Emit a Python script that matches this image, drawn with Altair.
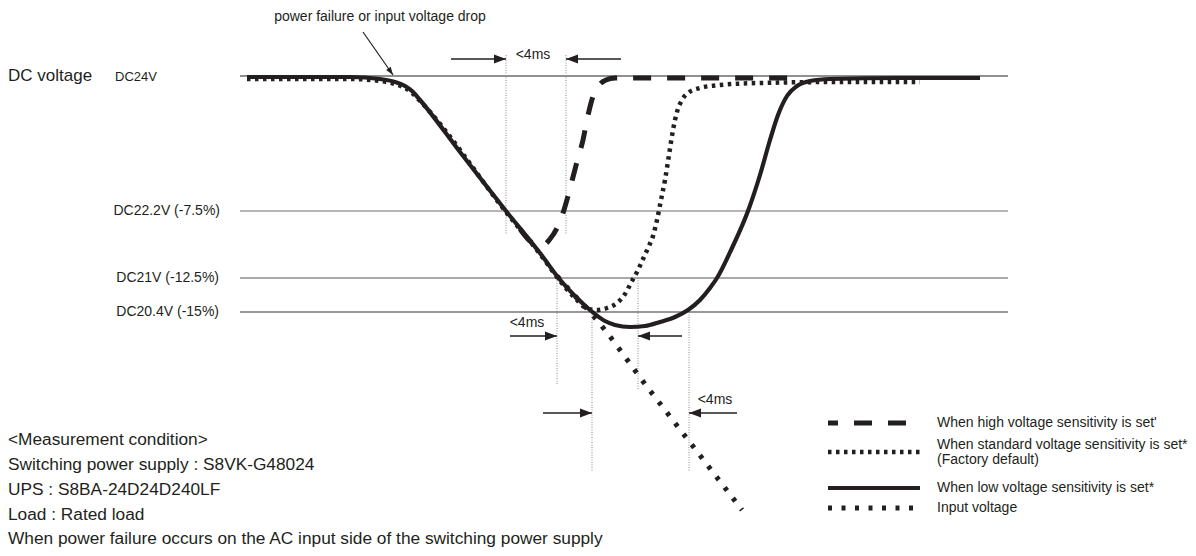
import altair as alt
import pandas as pd

# ---------------- data (diagram units: t = horizontal position, v = vertical level, downward) ----
# voltage reference levels
ref_labels = ["DC24V", "DC22.2V (-7.5%)", "DC21V (-12.5%)", "DC20.4V (-15%)"]
ref_levels = [76, 211, 278, 312]
ref_start, ref_end = 240, 1008

# low voltage sensitivity (solid)
low_t = [247, 300, 350, 380, 395, 405, 412, 420, 460, 506, 543, 557, 575, 590, 605, 615, 630, 645,
         660, 675, 688, 700, 710, 717, 732, 748, 760, 770, 778, 787, 797, 810, 830, 900, 980]
low_v = [77, 77, 77, 79, 82, 86, 91, 100, 152, 211, 257, 276, 296, 310, 321, 325, 327, 326,
         322, 317, 310, 300, 288, 278, 248, 211, 175, 140, 115, 96, 86, 81, 79, 78, 78]

# high voltage sensitivity (dashed)
high_t = [520, 530, 537, 543, 550, 557, 563, 568, 573, 578, 583, 587, 591, 595, 600, 606, 615, 650, 800]
high_v = [229, 241, 245, 245, 239, 228, 213, 196, 177, 158, 140, 120, 103, 91, 84, 80, 78, 78, 78]

# standard voltage sensitivity (dotted, factory default)
std_t = [247, 350, 380, 395, 405, 412, 420, 506, 543, 557, 575, 588, 597, 607, 617, 625, 632, 638,
         643, 648, 653, 657, 661, 665, 669, 673, 677, 682, 688, 700, 720, 760, 840, 920]
std_v = [79, 79, 81, 84, 88, 93, 101, 212, 258, 277, 298, 309, 310, 308, 303, 294, 281, 270,
         259, 248, 236, 220, 200, 180, 155, 130, 112, 100, 93, 88, 85, 83, 82, 82]

# input voltage (sparse dotted)
inp_t = [557, 575, 590, 648, 692, 742]
inp_v = [276, 296, 312, 388, 445, 510]

# "<4ms" interval markers
vlines_t = [506, 566, 557, 592, 638, 689]
vlines_top = [55, 55, 278, 312, 278, 312]
vlines_bot = [235, 235, 385, 472, 390, 472]

shaft_lev = [59, 59, 336, 336, 413, 413]
shaft_from = [451, 621, 510, 682, 543, 737]
shaft_to = [506, 566, 557, 638, 592, 689]
head_dir = ["r", "l", "r", "l", "r", "l"]

ms_text = ["<4ms", "<4ms", "<4ms"]
ms_t = [533, 527, 715]
ms_v = [55, 323, 400]

annot_text = "power failure or input voltage drop"
annot_t, annot_v = 380, 17
annot_arrow_t = [363, 393]
annot_arrow_v = [32, 75]

cond_lines = [
    "<Measurement condition>",
    "Switching power supply : S8VK-G48024",
    "UPS : S8BA-24D24D240LF",
    "Load : Rated load",
    "When power failure occurs on the AC input side of the switching power supply",
]
cond_v = [440, 465, 490, 515, 539]

legend_names = ["high", "std", "low", "input"]
legend_v = [423, 452, 488, 508]
legend_t0, legend_t1 = 828, 920
legend_text = [
    "When high voltage sensitivity is set'",
    "When standard voltage sensitivity is set*",
    "(Factory default)",
    "When low voltage sensitivity is set*",
    "Input voltage",
]
legend_text_v = [423, 445, 460, 488, 508]
legend_text_t = 937

# ---------------- chart ----------------
INK = "#231f20"
FONT = "Liberation Sans"
XS = alt.Scale(domain=[8, 1188], nice=False, zero=False)
YS = alt.Scale(domain=[8, 548], nice=False, zero=False, reverse=True)


def X(f="t"):
    return alt.X(f"{f}:Q", scale=XS, axis=None)


def Y(f="v"):
    return alt.Y(f"{f}:Q", scale=YS, axis=None)


def line_df(xs, ys):
    return pd.DataFrame({"i": list(range(len(xs))), "t": xs, "v": ys})


layers = []

# reference levels
ref_df = pd.DataFrame({"v": ref_levels, "t0": ref_start, "t1": ref_end,
                       "c": ["#222222", "#6e6e6e", "#555555", "#333333"]})
layers.append(alt.Chart(ref_df).mark_rule(strokeWidth=1.2).encode(
    x=X("t0"), x2="t1", y=Y(), color=alt.Color("c:N", scale=None)))

# vertical dotted guides
vl_df = pd.DataFrame({"t": vlines_t, "v0": vlines_top, "v1": vlines_bot})
layers.append(alt.Chart(vl_df).mark_rule(strokeWidth=1, color="#8a8a8a", strokeDash=[1, 1.5]).encode(
    x=X(), y=Y("v0"), y2="v1"))

# curves
styles = {
    "input": dict(strokeDash=[4, 9.5], strokeWidth=5),
    "std": dict(strokeDash=[3.5, 4.5], strokeWidth=4.5),
    "high": dict(strokeDash=[18, 16], strokeWidth=5),
    "low": dict(strokeWidth=4.2),
}
for name, xs, ys in [("input", inp_t, inp_v), ("std", std_t, std_v),
                     ("high", high_t, high_v), ("low", low_t, low_v)]:
    layers.append(alt.Chart(line_df(xs, ys)).mark_line(
        color=INK, interpolate="monotone", strokeCap="butt", **styles[name]).encode(
        x=X(), y=Y(), order="i:Q"))

# arrows
sh_df = pd.DataFrame({"v": shaft_lev, "t0": shaft_from, "t1": shaft_to})
layers.append(alt.Chart(sh_df).mark_rule(strokeWidth=1.5, color=INK).encode(
    x=X("t0"), x2="t1", y=Y()))
hd_df = pd.DataFrame({"t": shaft_to, "v": shaft_lev, "d": head_dir})
for d, path in [("r", "M0,0L-4,-1.5L-4,1.5Z"), ("l", "M0,0L4,-1.5L4,1.5Z")]:
    layers.append(alt.Chart(hd_df).transform_filter(alt.datum.d == d).mark_point(
        shape=path, size=36, filled=True, opacity=1, color=INK, strokeWidth=0).encode(
        x=X(), y=Y()))

# annotation arrow
an_df = line_df(annot_arrow_t, annot_arrow_v)
layers.append(alt.Chart(an_df).mark_line(color=INK, strokeWidth=1.2).encode(
    x=X(), y=Y(), order="i:Q"))
layers.append(alt.Chart(an_df.tail(1)).mark_point(
    shape="M0,0L-4,-1.4L-4,1.4Z", size=16, filled=True, opacity=1, color=INK,
    strokeWidth=0, angle=55).encode(x=X(), y=Y()))

# texts
txt = lambda df, **kw: alt.Chart(df).mark_text(font=FONT, color=INK, baseline="middle", **kw).encode(
    x=X(), y=Y(), text="s:N")

layers.append(txt(pd.DataFrame({"s": ["DC voltage"], "t": [8], "v": [76]}), align="left", fontSize=17))
layers.append(txt(pd.DataFrame({"s": [ref_labels[0]], "t": [115], "v": [ref_levels[0] + 1]}),
                  align="left", fontSize=13))
layers.append(txt(pd.DataFrame({"s": ref_labels[1:], "t": [220, 219, 219], "v": ref_levels[1:]}),
                  align="right", fontSize=14))
layers.append(txt(pd.DataFrame({"s": [annot_text] + ms_text, "t": [annot_t] + ms_t,
                                "v": [annot_v] + ms_v}), align="center", fontSize=14))
layers.append(txt(pd.DataFrame({"s": cond_lines, "t": 8, "v": cond_v}), align="left", fontSize=17.3))
layers.append(txt(pd.DataFrame({"s": legend_text, "t": legend_text_t, "v": legend_text_v}),
                  align="left", fontSize=14))

# legend samples
for name, lv in zip(legend_names, legend_v):
    extra = {"strokeDashOffset": 8} if name == "high" else {}
    layers.append(alt.Chart(line_df([legend_t0, legend_t1], [lv, lv])).mark_line(
        color=INK, strokeCap="butt", **styles[name], **extra).encode(x=X(), y=Y(), order="i:Q"))

chart = alt.layer(*layers).properties(
    width=1180, height=540, padding=0, autosize="none", background="white"
).configure_view(stroke=None)

chart.save("out.html", embed_options={"renderer": "svg", "actions": False})
